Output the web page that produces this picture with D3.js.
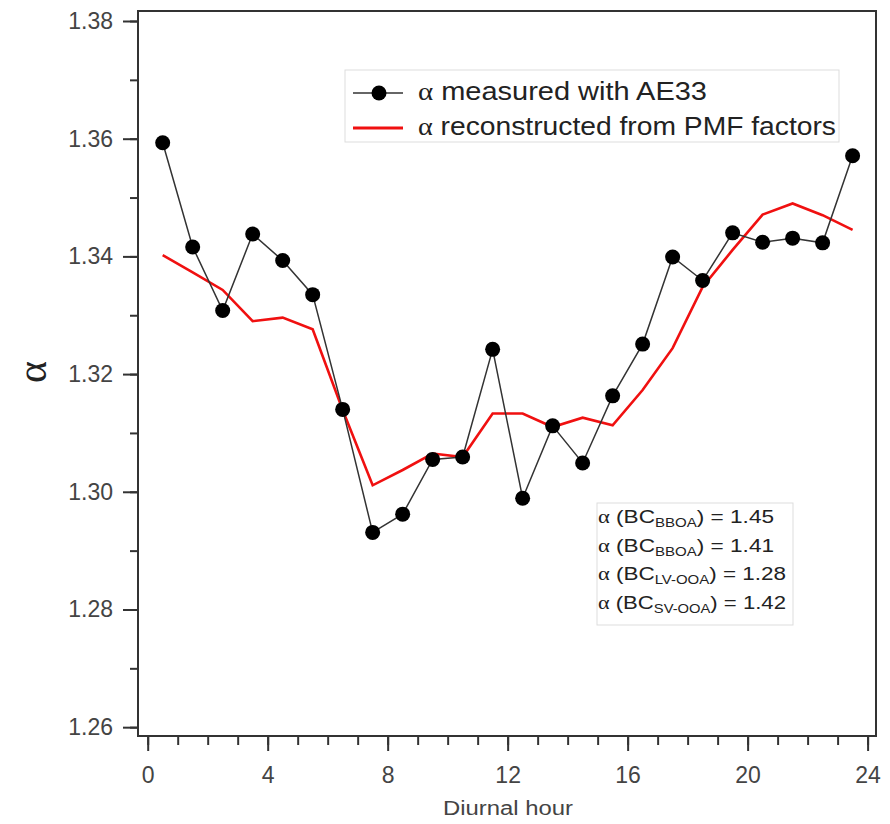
<!DOCTYPE html>
<html>
<head>
<meta charset="utf-8">
<script src="https://cdn.jsdelivr.net/npm/d3@7"></script>
<style>
  body { margin: 0; background: #fff; }
  svg { font-family: "Liberation Sans", Arial, sans-serif; }
  .axis text { fill: #444; font-size: 23px; font-family: "Liberation Sans", Arial, sans-serif; }
  .axis path, .axis line { stroke: #333; stroke-width: 2; }
</style>
</head>
<body>
<svg id="chart" width="890" height="824"></svg>
<script>
// diurnal hours (bin centres)
const hours = [0.5, 1.5, 2.5, 3.5, 4.5, 5.5, 6.5, 7.5, 8.5, 9.5, 10.5, 11.5,
               12.5, 13.5, 14.5, 15.5, 16.5, 17.5, 18.5, 19.5, 20.5, 21.5, 22.5, 23.5];

// alpha measured with AE33
const measured = [1.3593, 1.3416, 1.3308, 1.3438, 1.3393, 1.3335, 1.3140, 1.2931,
                  1.2962, 1.3055, 1.3059, 1.3242, 1.2989, 1.3112, 1.3049, 1.3163,
                  1.3251, 1.3399, 1.3359, 1.3440, 1.3424, 1.3431, 1.3423, 1.3571];

// alpha reconstructed from PMF factors
const reconstructed = [1.3402, 1.3373, 1.3343, 1.3290, 1.3296, 1.3276, 1.3139, 1.3011,
                       1.3037, 1.3065, 1.3059, 1.3133, 1.3133, 1.3110, 1.3126, 1.3113,
                       1.3173, 1.3244, 1.3348, 1.3411, 1.3471, 1.3490, 1.3470, 1.3445];

const xTicks = [0, 4, 8, 12, 16, 20, 24];
const yTicks = [1.26, 1.28, 1.30, 1.32, 1.34, 1.36, 1.38];

const legendLabels = ["measured with AE33", "reconstructed from PMF factors"];
const factorNames = ["BBOA", "BBOA", "LV-OOA", "SV-OOA"];
const factorAlpha = ["1.45", "1.41", "1.28", "1.42"];

const svg = d3.select("#chart");
const plotLeft = 138, plotRight = 876, plotTop = 11, plotBottom = 736;

let x = d3.scaleLinear().domain([-0.323, 24.28]).range([plotLeft, plotRight]);
let y = d3.scaleLinear().domain([1.2585, 1.3817]).range([plotBottom, plotTop]);

// minor ticks first (no labels)
svg.append("g")
    .attr("class", "axis")
    .attr("transform", `translate(0,${plotBottom})`)
    .call(d3.axisBottom(x).tickValues(d3.range(0, 25, 1)).tickSize(9).tickFormat(""))
    .select(".domain").remove();

svg.append("g")
    .attr("class", "axis")
    .attr("transform", `translate(${plotLeft},0)`)
    .call(d3.axisLeft(y).tickValues(d3.range(1.26, 1.385, 0.01)).tickSize(8).tickFormat(""))
    .select(".domain").remove();

// major ticks with labels
let xAxis = svg.append("g")
    .attr("class", "axis")
    .attr("transform", `translate(0,${plotBottom})`)
    .call(d3.axisBottom(x).tickValues(xTicks).tickSize(15).tickPadding(16).tickFormat(d3.format("d")));
xAxis.select(".domain").remove();

let yAxis = svg.append("g")
    .attr("class", "axis")
    .attr("transform", `translate(${plotLeft},0)`)
    .call(d3.axisLeft(y).tickValues(yTicks).tickSize(15).tickPadding(10).tickFormat(d3.format(".2f")));
yAxis.select(".domain").remove();

// frame
svg.append("rect")
    .attr("x", plotLeft).attr("y", plotTop)
    .attr("width", plotRight - plotLeft).attr("height", plotBottom - plotTop)
    .attr("fill", "none").attr("stroke", "#333").attr("stroke-width", 2);

// axis titles
svg.append("text")
    .attr("x", 443).attr("y", 815)
    .attr("fill", "#444").attr("font-size", 20)
    .attr("textLength", 130).attr("lengthAdjust", "spacingAndGlyphs")
    .text("Diurnal hour");

svg.append("text")
    .attr("transform", "translate(46,372) rotate(-90)")
    .attr("text-anchor", "middle")
    .attr("font-family", "Liberation Serif, serif")
    .attr("fill", "#222").attr("font-size", 42)
    .text("α");

// reconstructed line
let line = d3.line().x((d, i) => x(hours[i])).y(d => y(d));

svg.append("path")
    .datum(reconstructed)
    .attr("fill", "none")
    .attr("stroke", "#f01010")
    .attr("stroke-width", 2.6)
    .attr("d", line);

// measured line + markers
svg.append("path")
    .datum(measured)
    .attr("fill", "none")
    .attr("stroke", "#333")
    .attr("stroke-width", 1.5)
    .attr("d", line);

svg.append("g")
    .selectAll("circle")
    .data(measured)
    .join("circle")
    .attr("cx", (d, i) => x(hours[i]))
    .attr("cy", d => y(d))
    .attr("r", 7.5)
    .attr("fill", "#000");

// legend
let legend = svg.append("g");
legend.append("rect")
    .attr("x", 345).attr("y", 70).attr("width", 494).attr("height", 72)
    .attr("fill", "#fff").attr("stroke", "#ddd").attr("stroke-width", 1);

const legendWidths = [289, 418];
legendLabels.forEach((label, i) => {
    let ly = 93 + i * 35;
    legend.append("line")
        .attr("x1", 353).attr("x2", 403).attr("y1", ly).attr("y2", ly)
        .attr("stroke", i == 0 ? "#333" : "#f01010")
        .attr("stroke-width", i == 0 ? 1.5 : 3);
    if (i == 0) {
        legend.append("circle").attr("cx", 379).attr("cy", ly).attr("r", 7.5).attr("fill", "#000");
    }
    let t = legend.append("text")
        .attr("x", 418).attr("y", ly + 7)
        .attr("font-size", 26).attr("fill", "#222")
        .attr("textLength", legendWidths[i]).attr("lengthAdjust", "spacingAndGlyphs");
    t.append("tspan").attr("font-family", "Liberation Serif, serif").text("α");
    t.append("tspan").text(" " + label);
});

// factor annotation box
let note = svg.append("g");
note.append("rect")
    .attr("x", 597).attr("y", 503).attr("width", 196).attr("height", 122)
    .attr("fill", "#fff").attr("stroke", "#ddd").attr("stroke-width", 1);

const noteWidths = [176, 176, 188, 188];
factorNames.forEach((name, i) => {
    let t = note.append("text")
        .attr("x", 598).attr("y", 523 + i * 28.5)
        .attr("font-size", 18).attr("fill", "#222")
        .attr("textLength", noteWidths[i]).attr("lengthAdjust", "spacingAndGlyphs");
    t.append("tspan").attr("font-family", "Liberation Serif, serif").text("α");
    t.append("tspan").text(" (BC");
    t.append("tspan").attr("font-size", 12).attr("dy", 4).text(name);
    t.append("tspan").attr("dy", -4).text(") = " + factorAlpha[i]);
});
</script>
</body>
</html>
